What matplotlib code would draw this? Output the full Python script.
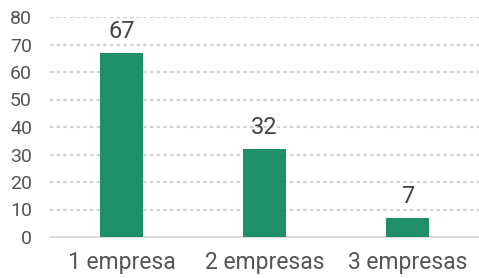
import matplotlib.pyplot as plt

categories = ['1 empresa', '2 empresas', '3 empresas']
values = [67, 32, 7]
yticks = [0, 10, 20, 30, 40, 50, 60, 70, 80]

plt.rcParams['font.family'] = ['Roboto', 'DejaVu Sans']

fig = plt.figure(figsize=(4.79, 2.78), dpi=100)
ax = fig.add_axes([50 / 479, 41 / 278, 429 / 479, 220 / 278])

x = range(len(categories))
ax.bar(x, values, width=0.3, color='#1e8f68', zorder=3)
for xi, v in zip(x, values):
    ax.annotate(str(v), (xi, v), xytext=(0, 7), textcoords='offset points',
                ha='center', va='bottom', fontsize=17, color='#444444')

ax.set_xlim(-0.5, 2.5)
ax.set_ylim(0, 80)
ax.set_yticks(yticks)
ax.set_xticks(list(x))
ax.set_xticklabels(categories)

for y in yticks[1:]:
    ax.axhline(y, color='#d0d0d0', linestyle=(0, (1.5, 1.5)), linewidth=1.6, zorder=1)

for s in ['top', 'right', 'left']:
    ax.spines[s].set_visible(False)
ax.spines['bottom'].set_color('#d4d4d4')
ax.spines['bottom'].set_linewidth(1.2)

ax.tick_params(axis='y', length=0, pad=13, labelsize=14, labelcolor='#555555')
ax.tick_params(axis='x', length=0, pad=10, labelsize=16.5, labelcolor='#555555')

fig.savefig('out.png', dpi=100)
